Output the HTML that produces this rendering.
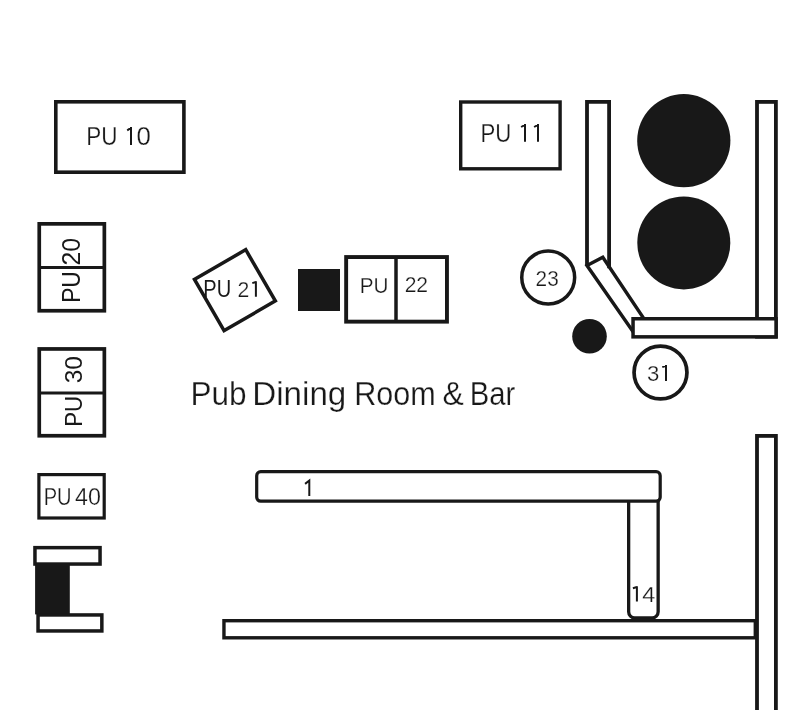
<!DOCTYPE html>
<html><head><meta charset="utf-8"><style>
html,body{margin:0;padding:0;background:#fff;width:794px;height:710px;overflow:hidden}
svg{display:block;will-change:transform}
text{font-family:"Liberation Sans", sans-serif;fill:#181818;stroke:#fff;stroke-width:0.25px}
</style></head><body>
<svg width="794" height="710" viewBox="0 0 794 710">
<rect x="55.80" y="101.80" width="128.10" height="70.40" rx="0" fill="#fff" stroke="#181818" stroke-width="3.6"/>
<rect x="460.70" y="102.00" width="99.40" height="66.80" rx="0" fill="#fff" stroke="#181818" stroke-width="3.4"/>
<rect x="39.25" y="223.85" width="65.10" height="86.90" rx="0" fill="#fff" stroke="#181818" stroke-width="3.7"/>
<line x1="39" y1="267.5" x2="104.6" y2="267.5" stroke="#181818" stroke-width="3"/>
<rect x="39.25" y="348.95" width="65.10" height="86.80" rx="0" fill="#fff" stroke="#181818" stroke-width="3.7"/>
<line x1="39" y1="392.9" x2="104.6" y2="392.9" stroke="#181818" stroke-width="3"/>
<rect x="38.90" y="474.60" width="65.30" height="43.40" rx="0" fill="#fff" stroke="#181818" stroke-width="3.2"/>
<rect x="34.95" y="547.65" width="65.10" height="16.40" rx="0" fill="#fff" stroke="#181818" stroke-width="3.5"/>
<rect x="35.1" y="563" width="34.70" height="51.40" fill="#181818"/>
<rect x="38.05" y="614.95" width="63.80" height="16.00" rx="0" fill="#fff" stroke="#181818" stroke-width="3.5"/>
<rect x="205.30" y="260.55" width="59.20" height="59.20" fill="#fff" stroke="#181818" stroke-width="3.5" transform="rotate(-30 234.9 290.15)"/>
<rect x="298" y="269" width="42.00" height="42.00" fill="#181818"/>
<rect x="346.15" y="257.05" width="100.80" height="64.60" rx="0" fill="#fff" stroke="#181818" stroke-width="3.9"/>
<line x1="396" y1="257" x2="396" y2="321.7" stroke="#181818" stroke-width="3.5"/>
<circle cx="548.2" cy="277.5" r="26.45" fill="#fff" stroke="#181818" stroke-width="3.5"/>
<circle cx="589.5" cy="336.3" r="17.3" fill="#181818"/>
<circle cx="660.5" cy="372.5" r="26.45" fill="#fff" stroke="#181818" stroke-width="3.7"/>
<circle cx="683.8" cy="140.7" r="46.6" fill="#181818"/>
<circle cx="683.8" cy="242.9" r="46.5" fill="#181818"/>
<polygon points="587,265.5 602.8,257.3 653.5,333 634,333" fill="#fff" stroke="#181818" stroke-width="3.4" stroke-linejoin="miter"/>
<path d="M587,265.5 L587,101.9 L609.1,101.9 L609.1,268.2" fill="none" stroke="#181818" stroke-width="3.8" stroke-linejoin="miter"/>
<rect x="757.00" y="101.90" width="18.90" height="234.80" rx="0" fill="#fff" stroke="#181818" stroke-width="3.8"/>
<rect x="633.05" y="318.75" width="143.00" height="18.10" rx="0" fill="#fff" stroke="#181818" stroke-width="3.5"/>
<rect x="628.65" y="491.65" width="29.50" height="126.20" rx="6" fill="#fff" stroke="#181818" stroke-width="3.3"/>
<rect x="256.70" y="471.70" width="403.50" height="29.50" rx="4" fill="#fff" stroke="#181818" stroke-width="3.2"/>
<rect x="223.95" y="620.70" width="531.35" height="17.10" rx="0" fill="#fff" stroke="#181818" stroke-width="3.4"/>
<rect x="757.00" y="435.90" width="18.90" height="292.20" rx="0" fill="#fff" stroke="#181818" stroke-width="3.8"/>
<path d="M127.2,130.39999999999998 L131.0,127.89999999999999 M131.0,127.1 L131.0,144.9" fill="none" stroke="#181818" stroke-width="2"/>
<path d="M521.1,127.0 L525.0,124.8 M525.0,124.0 L525.0,141.8" fill="none" stroke="#181818" stroke-width="2"/>
<path d="M534.1,127.0 L538.0,124.8 M538.0,124.0 L538.0,141.8" fill="none" stroke="#181818" stroke-width="2"/>
<path d="M252.3,283.09999999999997 L255.9,282.0 M255.9,281.2 L255.9,296.8" fill="none" stroke="#181818" stroke-width="2"/>
<path d="M662.3,367.09999999999997 L666.0,365.90000000000003 M666.0,365.1 L666.0,380.9" fill="none" stroke="#181818" stroke-width="2"/>
<path d="M632.9,588.2 L636.9,587.0 M636.9,586.2 L636.9,601.6" fill="none" stroke="#181818" stroke-width="2"/>
<path d="M305.1,483.9 L309.3,480.5 L309.3,495.9" fill="none" stroke="#181818" stroke-width="2.0" stroke-linejoin="miter"/>
<text x="86.28" y="144.70" font-size="25.21" textLength="31.24" lengthAdjust="spacingAndGlyphs">PU</text>
<text x="136.51" y="144.70" font-size="25.29" textLength="14.37" lengthAdjust="spacingAndGlyphs">0</text>
<text x="480.43" y="141.80" font-size="25.46" textLength="30.83" lengthAdjust="spacingAndGlyphs">PU</text>
<text style="stroke:none" x="55.08" y="295.90" font-size="26.29" textLength="31.72" lengthAdjust="spacingAndGlyphs" transform="rotate(-90 71.10 286.85)">PU</text>
<text style="stroke:none" x="57.17" y="260.57" font-size="26.54" textLength="27.70" lengthAdjust="spacingAndGlyphs" transform="rotate(-90 71.10 251.55)">20</text>
<text style="stroke:none" x="57.86" y="420.20" font-size="24.03" textLength="30.98" lengthAdjust="spacingAndGlyphs" transform="rotate(-90 73.30 411.40)">PU</text>
<text style="stroke:none" x="59.51" y="377.75" font-size="24.59" textLength="27.28" lengthAdjust="spacingAndGlyphs" transform="rotate(-90 73.30 369.55)">30</text>
<text x="43.71" y="505.20" font-size="23.72" textLength="27.90" lengthAdjust="spacingAndGlyphs">PU</text>
<text x="75.11" y="505.20" font-size="23.72" textLength="25.90" lengthAdjust="spacingAndGlyphs">40</text>
<text style="stroke:none" x="203.34" y="296.70" font-size="23.79" textLength="27.85" lengthAdjust="spacingAndGlyphs">PU</text>
<text x="237.42" y="296.80" font-size="22.57" textLength="11.81" lengthAdjust="spacingAndGlyphs">2</text>
<text x="359.76" y="292.50" font-size="22.00" textLength="28.74" lengthAdjust="spacingAndGlyphs">PU</text>
<text x="404.65" y="292.00" font-size="22.88" textLength="23.46" lengthAdjust="spacingAndGlyphs">22</text>
<text x="535.58" y="285.80" font-size="22.30" textLength="23.11" lengthAdjust="spacingAndGlyphs">23</text>
<text x="647.11" y="380.70" font-size="22.31" textLength="12.32" lengthAdjust="spacingAndGlyphs">3</text>
<text x="642.38" y="601.52" font-size="22.60" textLength="13.02" lengthAdjust="spacingAndGlyphs">4</text>
<text x="190.51" y="404.80" font-size="33.10" textLength="56.10" lengthAdjust="spacingAndGlyphs">Pub</text>
<text x="252.21" y="404.80" font-size="33.10" textLength="94.10" lengthAdjust="spacingAndGlyphs">Dining</text>
<text x="354.21" y="404.80" font-size="33.10" textLength="81.50" lengthAdjust="spacingAndGlyphs">Room</text>
<text x="442.61" y="404.80" font-size="33.10" textLength="21.30" lengthAdjust="spacingAndGlyphs">&amp;</text>
<text x="469.81" y="404.80" font-size="33.10" textLength="45.50" lengthAdjust="spacingAndGlyphs">Bar</text>
</svg>
</body></html>
